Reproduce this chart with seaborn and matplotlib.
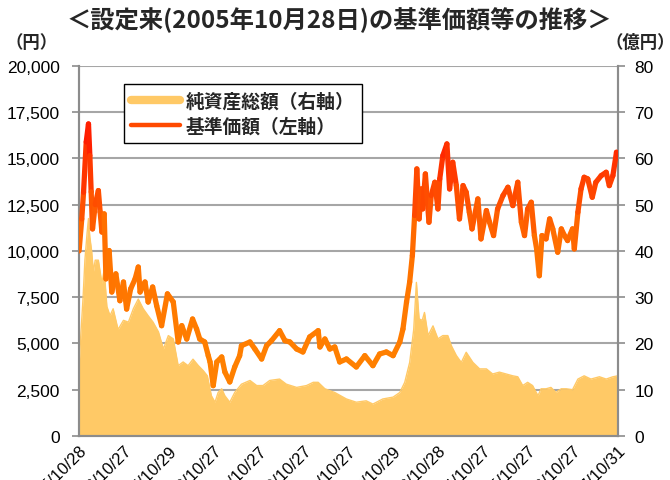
import numpy as np
import pandas as pd
import matplotlib
matplotlib.use("Agg")
import matplotlib.pyplot as plt
import matplotlib.dates as mdates
import matplotlib.ticker as mticker
import seaborn as sns
from matplotlib.collections import LineCollection
from matplotlib.colors import LinearSegmentedColormap, Normalize
from matplotlib.lines import Line2D

# date de lancement du fonds
launch = pd.Timestamp("2005-10-28")
end = pd.Timestamp("2017-10-31")

# years after launch / NAV per unit (yen, left axis)
t_price = [0.00, 0.06, 0.10, 0.16, 0.21, 0.24, 0.27, 0.30, 0.36, 0.43, 0.47, 0.51, 0.56,
           0.60, 0.67, 0.73, 0.82, 0.91, 0.99, 1.06, 1.15, 1.25, 1.32, 1.36, 1.47, 1.54,
           1.64, 1.73, 1.84, 1.97, 2.10, 2.21, 2.29, 2.40, 2.53, 2.62, 2.69, 2.80, 2.88,
           2.92, 2.99, 3.07, 3.18, 3.25, 3.36, 3.47, 3.58, 3.62, 3.81, 3.92, 4.07, 4.18,
           4.29, 4.47, 4.59, 4.70, 4.85, 4.99, 5.14, 5.33, 5.37, 5.48, 5.59, 5.70, 5.81,
           5.96, 6.18, 6.37, 6.55, 6.70, 6.85, 7.00, 7.15, 7.22, 7.30, 7.37, 7.43, 7.48,
           7.53, 7.58, 7.63, 7.66, 7.72, 7.80, 7.85, 7.93, 8.00, 8.04, 8.11, 8.20, 8.26,
           8.33, 8.41, 8.48, 8.56, 8.63, 8.70, 8.76, 8.89, 8.96, 9.08, 9.15, 9.24, 9.33,
           9.45, 9.56, 9.67, 9.78, 9.86, 9.93, 10.00, 10.08, 10.15, 10.20, 10.26, 10.32,
           10.41, 10.49, 10.56, 10.67, 10.75, 10.82, 10.89, 11.00, 11.04, 11.12, 11.19,
           11.26, 11.34, 11.44, 11.52, 11.64, 11.75, 11.82, 11.90, 11.98, 12.01]
price = [10000, 11730, 13170, 15890, 16860, 15150, 13190, 11190, 12500, 13260, 12100, 11020, 12000,
         8490, 10020, 7780, 8760, 7310, 8320, 6860, 7950, 8490, 9130, 7780, 8320, 7240,
         8050, 7040, 5960, 7680, 7240, 5080, 5960, 5240, 6320, 5780, 5240, 5080, 4340,
         4000, 2720, 4000, 4270, 3460, 2920, 3730, 4340, 4880, 5080, 4700, 4160, 4880,
         5150, 5690, 5150, 5080, 4700, 4540, 5350, 5690, 4810, 5240, 4700, 4810, 4000,
         4160, 3730, 4340, 3800, 4430, 4540, 4340, 5080, 5780, 7240, 8320, 9750, 11910,
         14430, 11730, 13350, 12270, 14160, 11550, 12990, 13710, 12270, 13890, 15150, 15780, 13350,
         14790, 13530, 11730, 13530, 13170, 12090, 11190, 12810, 10650, 12180, 11550, 10830, 12270,
         12990, 13440, 12450, 13710, 11550, 10830, 12270, 12630, 10830, 10110, 8660, 10830,
         10650, 11730, 11190, 9930, 11190, 10830, 10560, 11190, 10110, 12090, 13350,
         13980, 13890, 12900, 13710, 14070, 14250, 13530, 14070, 15330, 15100]

# years after launch / total net assets (100 million yen, right axis)
t_nav = [0.00, 0.04, 0.09, 0.13, 0.18, 0.21, 0.24, 0.28, 0.32, 0.36, 0.43, 0.51, 0.56,
         0.62, 0.69, 0.76, 0.87, 0.99, 1.10, 1.21, 1.32, 1.43, 1.54, 1.65, 1.77, 1.88,
         1.99, 2.10, 2.21, 2.32, 2.43, 2.54, 2.66, 2.77, 2.86, 2.95, 3.03, 3.10, 3.18,
         3.25, 3.36, 3.47, 3.62, 3.81, 3.96, 4.10, 4.25, 4.47, 4.62, 4.85, 5.07, 5.22,
         5.33, 5.48, 5.70, 5.96, 6.18, 6.40, 6.55, 6.77, 7.00, 7.15, 7.26, 7.37, 7.46,
         7.52, 7.58, 7.65, 7.70, 7.78, 7.89, 8.00, 8.11, 8.22, 8.30, 8.41, 8.52, 8.63,
         8.78, 8.93, 9.08, 9.22, 9.37, 9.52, 9.67, 9.78, 9.89, 10.00, 10.11, 10.23, 10.30,
         10.41, 10.52, 10.63, 10.75, 10.86, 11.00, 11.12, 11.26, 11.41, 11.60, 11.75,
         11.90, 12.01]
nav = [15, 22, 30, 38, 44, 47, 43, 40, 35.5, 38, 38, 33, 36,
       28, 26, 27.5, 23, 25, 24.6, 27.5, 29.6, 27.5, 26, 24.6, 22.5, 18.8,
       21.7, 21, 15.2, 16, 15.2, 16.6, 15.2, 14.1, 13, 8.7, 7.3, 9.4, 10.2,
       8.7, 7.3, 9.4, 11.2, 12, 10.9, 10.9, 12, 12.3, 11.2, 10.5, 10.9, 11.6,
       11.6, 10.2, 9.4, 8, 7.3, 7.6, 6.9, 8, 8.4, 9.4, 11.6, 15.9, 23,
       33.2, 25.3, 25, 26.7, 21.7, 23.8, 21, 21.7, 21.7, 19.5, 17.4, 15.9, 18.1,
       15.9, 14.5, 14.5, 13.4, 13.8, 13.4, 13, 12.8, 10.9, 11.6, 10.9, 8.7, 10.2,
       10.2, 10.5, 9.4, 10.2, 10.2, 10, 12.3, 13, 12.3, 12.8, 12.3,
       12.8, 13]

tick_labels = ["2005/10/28", "2006/10/27", "2007/10/29", "2008/10/27", "2009/10/27",
               "2010/10/27", "2011/10/27", "2012/10/29", "2013/10/28", "2014/10/27",
               "2015/10/27", "2016/10/27", "2017/10/31"]

df_price = pd.DataFrame({"date": launch + pd.to_timedelta(np.array(t_price) * 365.25, unit="D"),
                         "price": price})
df_nav = pd.DataFrame({"date": launch + pd.to_timedelta(np.array(t_nav) * 365.25, unit="D"),
                       "nav": nav})

sns.set_theme(style="white")
plt.rcParams['font.family'] = ['Liberation Sans', 'Noto Sans CJK JP']
jp = ['Noto Sans CJK JP', 'DejaVu Sans']

grey = "#8C8C8C"
nav_col = "#FFC966"

fig, ax = plt.subplots(figsize=(6.7, 4.81), dpi=100)
fig.subplots_adjust(left=0.118, right=0.922, top=0.861, bottom=0.0915)
ax2 = ax.twinx()

# price axis above the area axis
ax.set_zorder(ax2.get_zorder() + 1)
ax.patch.set_visible(False)
ax2.patch.set_facecolor("white")

# net assets area (right axis)
ax2.fill_between(df_nav["date"], 0, df_nav["nav"], color=nav_col, lw=0, zorder=2)
sns.lineplot(data=df_nav, x="date", y="nav", ax=ax2, color=nav_col, lw=1, zorder=2)
ax2.set_ylim(0, 80)
ax2.yaxis.set_major_locator(mticker.MultipleLocator(10))
ax2.set_axisbelow(True)
ax2.grid(axis="y", color="#A6A6A6", lw=1.5)
ax2.grid(axis="x", visible=False)

# price line (left axis) with vertical gradient red -> orange
xd = mdates.date2num(df_price["date"])
yd = df_price["price"].to_numpy()
pts = np.column_stack([xd, yd]).reshape(-1, 1, 2)
segs = np.concatenate([pts[:-1], pts[1:]], axis=1)
cmap = LinearSegmentedColormap.from_list("pr", ["#FF8000", "#FF7000", "#FF1500"])
lc = LineCollection(segs, cmap=cmap, norm=Normalize(4000, 16800), lw=3.8,
                    capstyle="round", joinstyle="round", zorder=3)
lc.set_array((yd[:-1] + yd[1:]) / 2)
ax.add_collection(lc)
ax.set_ylim(0, 20000)
ax.yaxis.set_major_locator(mticker.MultipleLocator(2500))
ax.yaxis.set_major_formatter(mticker.FuncFormatter(lambda v, p: f"{v:,.0f}"))
ax.grid(False)

ax.set_xlim(launch, end)
tick_dates = pd.to_datetime(tick_labels, format="%Y/%m/%d")
ax.set_xticks(tick_dates)
ax.set_xticklabels(tick_labels, rotation=45, ha="right", va="top", rotation_mode="anchor")
ax.set_xlabel("")
ax.set_ylabel("")
ax2.set_ylabel("")
ax2.set_xlabel("")

for a in (ax, ax2):
    for s in a.spines.values():
        s.set_color(grey)
        s.set_linewidth(1.5)
    a.spines["top"].set_visible(False)
ax.tick_params(axis="y", left=True, length=5, width=1.2, color=grey, labelsize=12.5,
               labelcolor="black", pad=9)
ax.tick_params(axis="x", length=0, labelsize=12, labelcolor="black", pad=5)
ax2.tick_params(axis="y", right=True, length=5, width=1.2, color=grey, labelsize=12.5,
                labelcolor="black", pad=7)

# legend
handles = [Line2D([0], [0], color=nav_col, lw=6),
           Line2D([0], [0], color="#FF4A00", lw=3.2)]
leg = ax.legend(handles, ["純資産総額（右軸）", "基準価額（左軸）"], loc="upper left",
                bbox_to_anchor=(0.083, 0.95), borderaxespad=0, fancybox=False,
                framealpha=1, edgecolor="black", handlelength=2.6, handletextpad=0.3,
                labelspacing=0.3, borderpad=0.4,
                prop={"family": jp, "size": 13.5, "weight": "bold"})
leg.get_frame().set_linewidth(1.0)

fig.text(0.507, 0.958, "＜設定来(2005年10月28日)の基準価額等の推移＞", ha="center", va="center",
         fontsize=17.5, fontweight="bold", family=jp)
fig.text(0.047, 0.91, "（円）", ha="center", va="center", fontsize=12.5, fontweight="bold", family=jp)
fig.text(0.955, 0.91, "（億円）", ha="center", va="center", fontsize=12.5, fontweight="bold", family=jp)

fig.savefig("out.png", dpi=100, facecolor="white")
